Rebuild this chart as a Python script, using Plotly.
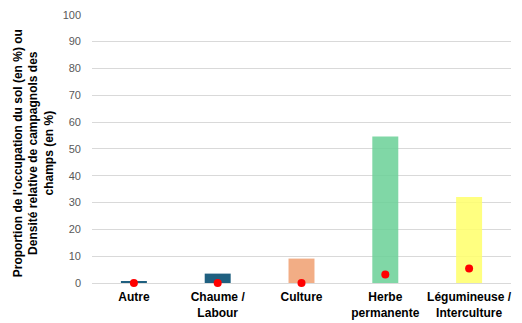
import plotly.graph_objects as go

categories = ["Autre", "Chaume /<br>Labour", "Culture", "Herbe<br>permanente", "Légumineuse /<br>Interculture"]
occupation = [0.5, 3.5, 9.1, 54.6, 32.1]
densite = [0.0, 0.0, 0.0, 3.2, 5.4]
bar_colors = ["rgba(31,96,128,1)", "rgba(31,96,128,1)", "rgba(240,159,112,0.85)",
              "rgba(106,208,150,0.85)", "rgba(255,255,106,0.85)"]
y_ticks = [0, 10, 20, 30, 40, 50, 60, 70, 80, 90, 100]

fig = go.Figure()
fig.add_trace(go.Bar(
    x=categories, y=occupation,
    marker=dict(color=bar_colors, line=dict(width=0)),
    width=0.31,
    showlegend=False,
))
fig.add_trace(go.Scatter(
    x=categories, y=densite, mode="markers",
    marker=dict(color="#ff0000", size=8),
    showlegend=False, cliponaxis=False,
))

fig.update_layout(
    width=522, height=323,
    margin=dict(l=84, r=19, t=6, b=48, autoexpand=False),
    paper_bgcolor="white", plot_bgcolor="white",
    font=dict(family="Liberation Sans, Arial, sans-serif", size=11, color="#000000"),
    xaxis=dict(
        showgrid=False, showline=False, zeroline=False, automargin=False,
        tickfont=dict(size=12, color="#000000", family="Liberation Sans, Arial, sans-serif", weight="bold"),
        ticks="", ticklabelstandoff=5,
    ),
    yaxis=dict(
        range=[0, 100.3], tickvals=y_ticks, automargin=False,
        showgrid=True, gridcolor="#d9d9d9", gridwidth=1,
        zeroline=True, zerolinecolor="#d9d9d9", zerolinewidth=1,
        showline=False, ticks="",
        tickfont=dict(size=11, color="#595959"),
        ticklabelstandoff=10, ticklabeloverflow="allow",
    ),
    annotations=[dict(
        text="<b>Proportion de l'occupation du sol (en %) ou<br>Densité relative de campagnols des<br>champs (en %)</b>",
        xref="paper", yref="paper", x=-0.141, y=0.482, align="center",
        xanchor="center", yanchor="middle", textangle=-90,
        showarrow=False, font=dict(size=12, color="#000000"),
    )],
)

fig.write_html("out.html")
